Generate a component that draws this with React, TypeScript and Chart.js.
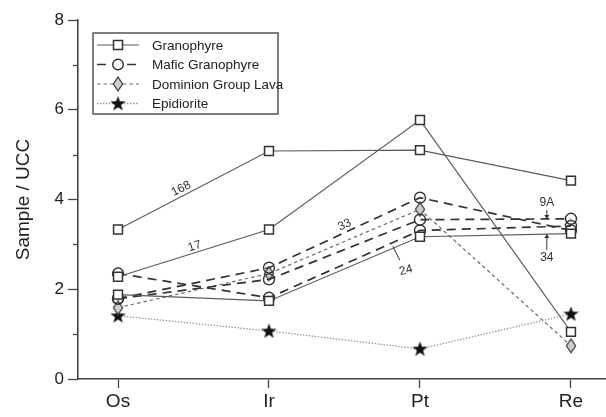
import React, { useEffect, useRef } from 'react';
import { Chart, registerables } from 'chart.js';
Chart.register(...registerables);

// ---- data ----
const elements = ['Os', 'Ir', 'Pt', 'Re'];
const yMajorTicks = [0, 2, 4, 6, 8];
const yMinorTicks = [1, 3, 5, 7];

const granophyre168 = [3.33, 5.08, 5.1, 4.42];
const granophyre17 = [2.28, 3.33, 5.77, 1.05];
const granophyre24 = [1.88, 1.74, 3.17, 3.24];

const mafic33 = [1.79, 2.48, 4.04, 3.31];
const mafic9A = [1.79, 2.22, 3.55, 3.57];
const maficLow = [2.35, 1.81, 3.31, 3.41];

const dominionLava = [1.59, 2.35, 3.78, 0.74];
const epidiorite = [1.41, 1.07, 0.67, 1.45];

const seriesNames = ['Granophyre', 'Mafic Granophyre', 'Dominion Group Lava', 'Epidiorite'];

// sample annotations: [text, series, segment index, fraction along segment]
const annotations = [
  { text: '168', series: granophyre168, seg: 0, t: 0.44, kind: 'along', off: 7 },
  { text: '17', series: granophyre17, seg: 0, t: 0.52, kind: 'along', off: 6 },
  { text: '33', series: mafic33, seg: 1, t: 0.52, kind: 'along', off: 7 },
  { text: '24', series: granophyre24, seg: 1, t: 0.82, kind: 'below', off: 0 },
  { text: '9A', series: mafic9A, seg: 2, t: 0.84, kind: 'arrowDown', off: 0 },
  { text: '34', series: granophyre24, seg: 2, t: 0.84, kind: 'arrowUp', off: 0 },
];

const FONT = '"Liberation Sans", Arial, sans-serif';
const AXIS = '#444';

function makeStar(): HTMLCanvasElement {
  const c = document.createElement('canvas');
  c.width = 17; c.height = 17;
  const g = c.getContext('2d')!;
  g.fillStyle = '#111';
  g.beginPath();
  const cx = 8.5, cy = 9, R = 8, r = 3.3;
  for (let i = 0; i < 10; i++) {
    const ang = -Math.PI / 2 + (i * Math.PI) / 5;
    const rad = i % 2 === 0 ? R : r;
    const px = cx + rad * Math.cos(ang);
    const py = cy + rad * Math.sin(ang);
    if (i === 0) g.moveTo(px, py); else g.lineTo(px, py);
  }
  g.closePath();
  g.fill();
  return c;
}

function makeDiamond(): HTMLCanvasElement {
  const c = document.createElement('canvas');
  c.width = 12; c.height = 16;
  const g = c.getContext('2d')!;
  g.fillStyle = '#cfcfcf';
  g.strokeStyle = '#444';
  g.lineWidth = 1.3;
  g.beginPath();
  g.moveTo(6, 1.2); g.lineTo(10.6, 8); g.lineTo(6, 14.8); g.lineTo(1.4, 8);
  g.closePath();
  g.fill(); g.stroke();
  return c;
}

const toXY = (arr: number[]) => arr.map((v, i) => ({ x: i, y: v }));

export default function App() {
  const ref = useRef<HTMLCanvasElement>(null);

  useEffect(() => {
    const star = makeStar();
    const diamond = makeDiamond();

    const gStyle = {
      borderColor: '#5a5a5a', borderWidth: 1.1, borderDash: [] as number[],
      pointStyle: 'rect', pointRadius: 6.3, pointBorderWidth: 1.5,
      pointBorderColor: '#333', pointBackgroundColor: '#fff',
    };
    const mStyle = {
      borderColor: '#333', borderWidth: 1.7, borderDash: [9, 6],
      pointStyle: 'circle', pointRadius: 5.5, pointBorderWidth: 1.4,
      pointBorderColor: '#333', pointBackgroundColor: 'rgba(255,255,255,0)',
    };
    const dStyle = {
      borderColor: '#6a6a6a', borderWidth: 1.2, borderDash: [3.5, 3],
      pointStyle: diamond, pointRadius: 6,
    };
    const eStyle = {
      borderColor: '#9a9a9a', borderWidth: 1.3, borderDash: [1.5, 1.5],
      pointStyle: star, pointRadius: 7,
    };
    const legendStyles = [gStyle, mStyle, dStyle, eStyle];

    const mk = (label: string, arr: number[], st: any) => ({
      label, data: toXY(arr), ...st, backgroundColor: 'transparent', fill: false,
      tension: 0, clip: false as any,
    });

    const overlay = {
      id: 'overlay',
      afterDraw(chart: any) {
        const ctx = chart.ctx as CanvasRenderingContext2D;
        const xs = chart.scales.x, ys = chart.scales.y;
        const ca = chart.chartArea;
        ctx.save();
        // minor ticks on y
        ctx.strokeStyle = AXIS; ctx.lineWidth = 1.3;
        yMinorTicks.forEach((v) => {
          const py = Math.round(ys.getPixelForValue(v)) + 0.5;
          ctx.beginPath(); ctx.moveTo(ca.left - 5, py); ctx.lineTo(ca.left, py); ctx.stroke();
        });

        // annotations
        ctx.fillStyle = '#333';
        ctx.strokeStyle = '#333';
        ctx.font = `12px ${FONT}`;
        ctx.textAlign = 'center';
        ctx.textBaseline = 'middle';
        annotations.forEach((a) => {
          const x0 = xs.getPixelForValue(a.seg), y0 = ys.getPixelForValue(a.series[a.seg]);
          const x1 = xs.getPixelForValue(a.seg + 1), y1 = ys.getPixelForValue(a.series[a.seg + 1]);
          const px = x0 + (x1 - x0) * a.t, py = y0 + (y1 - y0) * a.t;
          const ang = Math.atan2(y1 - y0, x1 - x0);
          if (a.kind === 'along') {
            const nx = Math.sin(ang), ny = -Math.cos(ang);
            ctx.save();
            ctx.translate(px + nx * a.off, py + ny * a.off);
            ctx.rotate(ang);
            ctx.fillText(a.text, 0, 0);
            ctx.restore();
          } else if (a.kind === 'below') {
            ctx.lineWidth = 1;
            ctx.beginPath(); ctx.moveTo(px, py - 2); ctx.lineTo(px + 7, py + 12); ctx.stroke();
            ctx.save();
            ctx.translate(px + 13, py + 22);
            ctx.rotate(-0.25);
            ctx.fillText(a.text, 0, 0);
            ctx.restore();
          } else if (a.kind === 'arrowDown') {
            ctx.lineWidth = 1;
            ctx.beginPath(); ctx.moveTo(px, py - 9); ctx.lineTo(px, py - 2); ctx.stroke();
            ctx.beginPath(); ctx.moveTo(px - 2.5, py - 4); ctx.lineTo(px + 2.5, py - 4); ctx.lineTo(px, py); ctx.closePath(); ctx.fill();
            ctx.fillText(a.text, px, py - 16);
          } else if (a.kind === 'arrowUp') {
            ctx.lineWidth = 1;
            ctx.beginPath(); ctx.moveTo(px, py + 16); ctx.lineTo(px, py + 2); ctx.stroke();
            ctx.beginPath(); ctx.moveTo(px - 2.5, py + 4); ctx.lineTo(px + 2.5, py + 4); ctx.lineTo(px, py); ctx.closePath(); ctx.fill();
            ctx.fillText(a.text, px, py + 24);
          }
        });

        // legend box
        const bx = ca.left + 15, by = ca.top + 13, bw = 185, bh = 81;
        ctx.fillStyle = '#fff';
        ctx.fillRect(bx, by, bw, bh);
        ctx.strokeStyle = '#555'; ctx.lineWidth = 1.5;
        ctx.strokeRect(bx, by, bw, bh);
        seriesNames.forEach((name, i) => {
          const st: any = legendStyles[i];
          const ry = by + 12 + i * 19.5;
          const lx0 = bx + 4, lx1 = bx + 46, mx = bx + 25;
          ctx.save();
          ctx.strokeStyle = st.borderColor; ctx.lineWidth = st.borderWidth;
          ctx.setLineDash(st.borderDash);
          ctx.beginPath(); ctx.moveTo(lx0, ry); ctx.lineTo(lx1, ry); ctx.stroke();
          ctx.setLineDash([]);
          if (st.pointStyle === 'rect') {
            ctx.fillStyle = '#fff'; ctx.strokeStyle = '#333'; ctx.lineWidth = 1.5;
            ctx.fillRect(mx - 4.5, ry - 4.5, 9, 9);
            ctx.strokeRect(mx - 4.5, ry - 4.5, 9, 9);
          } else if (st.pointStyle === 'circle') {
            ctx.fillStyle = '#fff'; ctx.strokeStyle = '#333'; ctx.lineWidth = 1.4;
            ctx.beginPath(); ctx.arc(mx, ry, 5.3, 0, Math.PI * 2); ctx.fill(); ctx.stroke();
          } else {
            const img = st.pointStyle as HTMLCanvasElement;
            ctx.drawImage(img, mx - img.width / 2, ry - img.height / 2);
          }
          ctx.restore();
          ctx.fillStyle = '#222';
          ctx.font = `13.5px ${FONT}`;
          ctx.textAlign = 'left';
          ctx.textBaseline = 'middle';
          ctx.fillText(name, bx + 59, ry + 1);
        });
        ctx.restore();
      },
    };

    const chart = new Chart(ref.current!, {
      type: 'line',
      data: {
        datasets: [
          mk(seriesNames[0], granophyre168, gStyle),
          mk(seriesNames[0], granophyre17, gStyle),
          mk(seriesNames[0], granophyre24, gStyle),
          mk(seriesNames[1], mafic33, mStyle),
          mk(seriesNames[1], mafic9A, mStyle),
          mk(seriesNames[1], maficLow, mStyle),
          mk(seriesNames[2], dominionLava, dStyle),
          mk(seriesNames[3], epidiorite, eStyle),
        ] as any,
      },
      options: {
        animation: false,
        responsive: false,
        layout: { autoPadding: false, padding: { top: 20, right: 0, left: 0, bottom: 0 } },
        plugins: { legend: { display: false }, tooltip: { enabled: false } },
        scales: {
          x: {
            type: 'linear',
            min: -0.265,
            max: 3.232,
            afterBuildTicks: (s: any) => { s.ticks = elements.map((_, i) => ({ value: i })); },
            afterFit: (s: any) => { s.height = 38; s.paddingLeft = 0; s.paddingRight = 0; },
            grid: { display: true, drawOnChartArea: false, drawTicks: true, tickLength: 9, tickColor: AXIS, tickWidth: 1.3 },
            border: { display: true, color: AXIS, width: 1.6 },
            ticks: {
              autoSkip: false, maxRotation: 0, padding: 2,
              color: '#222', font: { size: 19, family: FONT },
              callback: (v: any) => elements[Math.round(Number(v))] ?? '',
            },
          },
          y: {
            type: 'linear',
            min: 0,
            max: 8,
            afterBuildTicks: (s: any) => { s.ticks = yMajorTicks.map((v) => ({ value: v })); },
            afterFit: (s: any) => { s.width = 78; s.paddingTop = 0; s.paddingBottom = 0; },
            grid: { display: true, drawOnChartArea: false, drawTicks: true, tickLength: 10, tickColor: AXIS, tickWidth: 1.3 },
            border: { display: true, color: AXIS, width: 1.6 },
            ticks: { padding: 4, color: '#222', font: { size: 17, family: FONT } },
            title: {
              display: true, text: 'Sample / UCC', color: '#222',
              font: { size: 19, family: FONT }, padding: { top: 12, bottom: 0 },
            },
          },
        },
      } as any,
      plugins: [overlay],
    });
    return () => chart.destroy();
  }, []);

  return (
    <div style={{ position: 'fixed', left: 0, top: 0, width: 606, height: 417, background: '#fff' }}>
      <canvas ref={ref} width={606} height={417} style={{ width: 606, height: 417, display: 'block' }} />
    </div>
  );
}
